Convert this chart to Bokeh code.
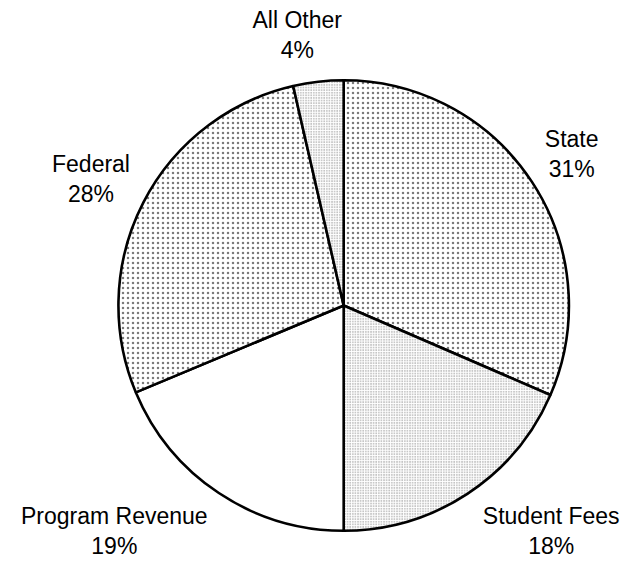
import math
from bokeh.plotting import figure
from bokeh.models import Range1d, ColumnDataSource
from bokeh.core.properties import value
from bokeh.embed import file_html
from bokeh.resources import INLINE

# ---- data (clockwise from 12 o'clock) ----
categories = ["State", "Student Fees", "Program Revenue", "Federal", "All Other"]
shares = [31.5, 18.5, 18.7, 27.7, 3.6]          # slice sizes
pct_labels = ["31%", "18%", "19%", "28%", "4%"]  # labels as printed

# ---- styling / layout (not data) ----
hatch_scales = [5, 2.6, 0, 5, 2.6]               # 0 -> plain white
label_pos = [(587, 142), (566, 530), (117, 530), (93, 168), (305, 20)]  # reference px, first line
line_gap = 31

W, H = 623, 561
K = 0.973                       # reference px -> figure px
CX, CY = 352.7 * K, 313.5 * K   # pie centre in figure px (from top-left)
R = 231.5 * K

p = figure(width=W, height=H, output_backend="svg", toolbar_location=None,
           x_range=Range1d(-CX, W - CX),
           y_range=Range1d(-(H - CY), CY),
           min_border=0, outline_line_color=None)
p.axis.visible = False
p.grid.visible = False
p.background_fill_color = "white"

total = sum(shares)
cum = 0.0
for cat, s, hs in zip(categories, shares, hatch_scales):
    a0 = cum / total * 2 * math.pi
    cum += s
    a1 = cum / total * 2 * math.pi
    kw = {}
    if hs:
        kw = dict(hatch_pattern="dot", hatch_scale=hs, hatch_color="#7a7a7a", hatch_weight=0.9)
    p.wedge(x=0, y=0, radius=R, start_angle=math.pi / 2 - a0, end_angle=math.pi / 2 - a1,
            direction="clock", fill_color="white", line_color="black", line_width=2.6, **kw)

src = ColumnDataSource(dict(
    x=[px * K - CX for px, py in label_pos],
    y1=[CY - py * K for px, py in label_pos],
    y2=[CY - (py + line_gap) * K for px, py in label_pos],
    name=categories, pct=pct_labels))
for col, ycol in (("name", "y1"), ("pct", "y2")):
    p.text(x="x", y=ycol, text=col, source=src, text_align="center", text_baseline="middle",
           text_font=value("Liberation Sans"), text_font_size="23px", text_color="black")

open("out.html", "w").write(file_html(p, INLINE))
